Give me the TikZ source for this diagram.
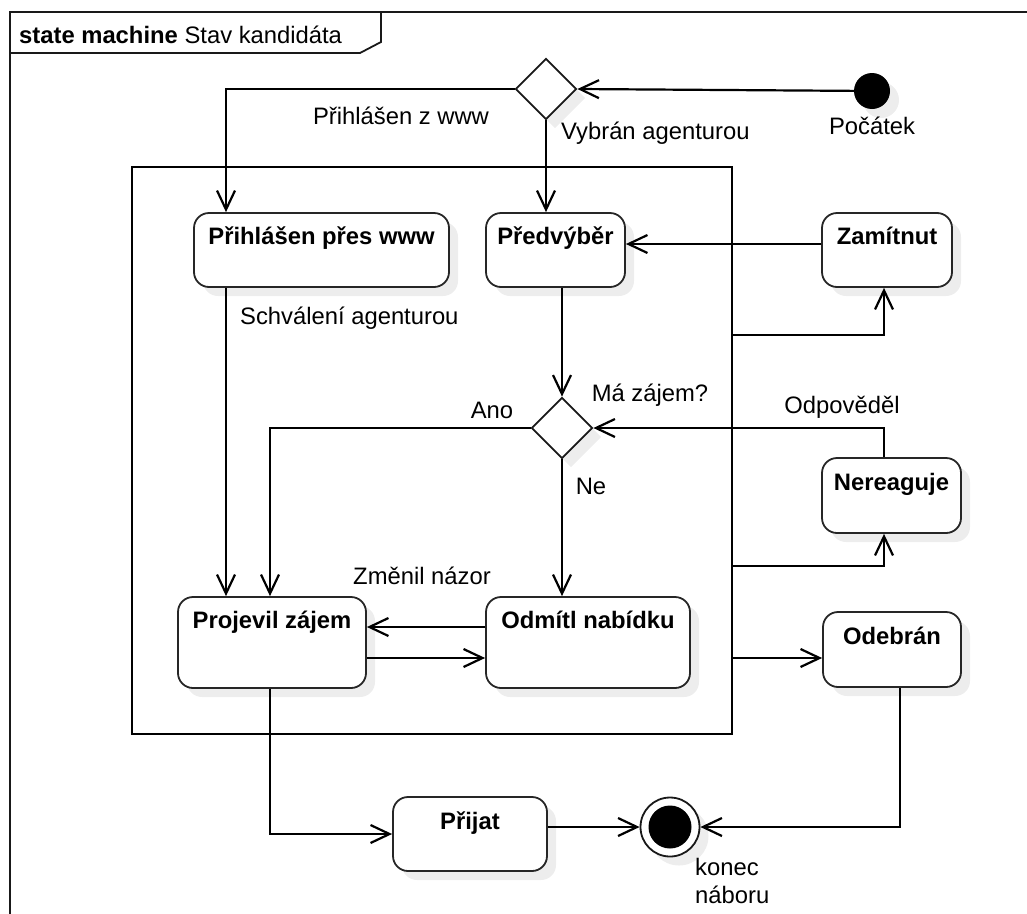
\documentclass[tikz,border=0pt]{standalone}
\usepackage{fontspec}
\setmainfont{Liberation Sans}
\usetikzlibrary{arrows.meta,shapes.geometric,shadows}
\begin{document}
\begin{tikzpicture}[x=1pt,y=-1pt,
  every node/.style={font=\fontsize{23.8}{28}\selectfont, inner sep=0pt, text height=17pt, text depth=5pt},
  shade/.style={drop shadow={shadow xshift=9pt,shadow yshift=-9pt,fill=black!7,opacity=1}},
  stbox/.style={draw=black!85, line width=1.8pt, rounded corners=15pt, fill=white, shade},
  sttext/.style={font=\fontsize{23.8}{28}\selectfont\bfseries},
  choice/.style={diamond, draw=black!90, line width=1.8pt, fill=white, minimum width=61pt, minimum height=61pt, shade},
  conn/.style={line width=2.2pt, -{Straight Barb[length=19pt,width=18pt]}},
  frame/.style={line width=1.8pt, black!90}]
\useasboundingbox (0,0) rectangle (1027,913);

% frame with its title tab
\draw[frame] (1040,12) -- (10,12) -- (10,925);
\draw[frame] (10,53) -- (360,53) -- (381,42) -- (381,12);
\node[anchor=base west, text height=, text depth=] (title) at (19,43) {\textbf{state machine} Stav kandidáta};

% composite state
\node[draw, line width=2pt, minimum width=600pt, minimum height=567pt] (comp) at (432,450.5) {};

% pseudo-states
\node[circle, fill=black, minimum size=36pt, shade] (init) at (872,91) {};
\node[choice] (d1) at (546,89) {};
\node[choice] (d2) at (562,428) {};
\node[circle, draw=black!90, line width=1.8pt, fill=white, minimum size=59pt, shade] (fin) at (670,827) {};
\node[circle, fill=black, minimum size=43pt] (finc) at (fin) {};

% states
\node[stbox, minimum width=255pt, minimum height=74pt] (pw) at (321.5,250) {};
\node[stbox, minimum width=139pt, minimum height=74pt] (pv) at (555.5,250) {};
\node[stbox, minimum width=130pt, minimum height=74pt] (zam) at (887,250) {};
\node[stbox, minimum width=139pt, minimum height=75pt] (ner) at (891.5,495.5) {};
\node[stbox, minimum width=188pt, minimum height=91pt] (pz) at (272,642.5) {};
\node[stbox, minimum width=204pt, minimum height=91pt] (om) at (588,642.5) {};
\node[stbox, minimum width=138pt, minimum height=75pt] (od) at (892,649.5) {};
\node[stbox, minimum width=154pt, minimum height=74pt] (pr) at (470,834) {};

\node[sttext] (pwt) at ([yshift=-26pt]pw.north) {Přihlášen přes www};
\node[sttext] (pvt) at ([yshift=-26pt]pv.north) {Předvýběr};
\node[sttext] (zamt) at ([yshift=-26pt]zam.north) {Zamítnut};
\node[sttext] (nert) at ([yshift=-27pt]ner.north) {Nereaguje};
\node[sttext] (pzt) at ([yshift=-26pt]pz.north) {Projevil zájem};
\node[sttext] (omt) at ([yshift=-26pt]om.north) {Odmítl nabídku};
\node[sttext] (odt) at ([yshift=-27pt]od.north) {Odebrán};
\node[sttext] (prt) at ([yshift=-27pt]pr.north) {Přijat};

% routing columns and rows
\coordinate (xa) at (226,0);
\coordinate (xb) at (270,0);
\coordinate (xc) at (562,0);
\coordinate (xz) at (884,0);
\coordinate (xo) at (900,0);
\coordinate (ya) at (0,335);
\coordinate (yb) at (0,566);
\coordinate (yc) at (0,658);

% transitions
\draw[conn] (init) -- (d1.east);
\draw[conn] (d1.west) -| (xa |- pw.north);
\draw[conn] (d1.south) -- (d1.south |- pv.north);
\draw[conn] ([yshift=6pt]zam.west) -- ([yshift=6pt]zam.west -| pv.east);
\draw[conn] (xc |- pv.south) -- (d2.north);
\draw[conn] (d2.west) -| (xb |- pz.north);
\draw[conn] (d2.south) -- (d2.south |- om.north);
\draw[conn] (xa |- pw.south) -- (xa |- pz.north);
\draw[conn] ([yshift=15.5pt]om.west) -- ([yshift=15.5pt]om.west -| pz.east);
\draw[conn] ([yshift=-15.5pt]pz.east) -- ([yshift=-15.5pt]pz.east -| om.west);
\draw[conn] (xb |- pz.south) |- (pr.west);
\draw[conn] (pr.east |- fin.west) -- (fin.west);
\draw[conn] (xo |- od.south) |- (fin.east);
\draw[conn] (comp.east |- ya) -| (xz |- zam.south);
\draw[conn] (comp.east |- yb) -| (xz |- ner.south);
\draw[conn] (xz |- ner.north) |- (d2.east);
\draw[conn] (comp.east |- yc) -- (od.west |- yc);

% transition and pseudo-state labels
\node (lwww) at (401,118) {Přihlášen z www};
\node[anchor=west] (lag) at (561,133) {Vybrán agenturou};
\node (lstart) at (872,128) {Počátek};
\node[anchor=west] (lsch) at (240,318) {Schválení agenturou};
\node (lmz) at (650,395) {Má zájem?};
\node (lano) at (492,412) {Ano};
\node (lne) at (591,488) {Ne};
\node (lodp) at (842,407) {Odpověděl};
\node (lzn) at (422,578) {Změnil názor};
\node[align=left, anchor=north west, text height=, text depth=] (lend) at (695,858) {konec\\náboru};
\end{tikzpicture}
\end{document}
